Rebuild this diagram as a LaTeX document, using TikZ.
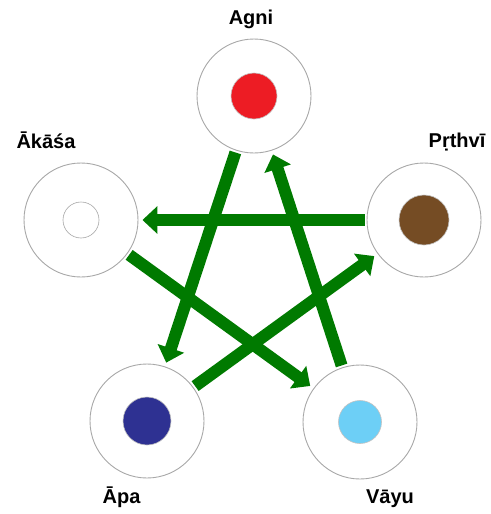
\documentclass[tikz,border=0pt]{standalone}
\usepackage{fontspec}
\setmainfont{Liberation Sans}
\usetikzlibrary{arrows.meta}
\definecolor{ringgray}{HTML}{A8A8A8}
\definecolor{arrowgreen}{HTML}{007A00}
\definecolor{agnired}{HTML}{ED1C24}
\definecolor{earthbrown}{HTML}{754C24}
\definecolor{waterblue}{HTML}{2E3192}
\definecolor{aircyan}{HTML}{6DCFF6}
\begin{document}
\begin{tikzpicture}[x=1pt,y=-1pt,
  ring/.style={circle,draw=ringgray,line width=0.9pt,fill=white,minimum size=114pt,inner sep=0pt},
  dot/.style={circle,draw=ringgray!70,line width=0.6pt,inner sep=0pt},
  lbl/.style={anchor=base,font=\bfseries\fontsize{20}{22}\selectfont,text=black},
  flow/.style={draw=arrowgreen,line width=12pt,
    -{Triangle[width=27pt,length=15pt]},shorten <=2pt,shorten >=4pt}]
\useasboundingbox (0,0) rectangle (490,514);
% rings
\node[ring] (agni) at (254,96) {};
\node[ring] (akasa) at (81,220) {};
\node[ring] (prthvi) at (424,220) {};
\node[ring] (apa) at (147,421) {};
\node[ring] (vayu) at (360,422) {};
% inner dots
\node[dot,fill=agnired,minimum size=46pt] (agnidot) at (agni) {};
\node[dot,fill=white,minimum size=36pt,draw=ringgray] (akasadot) at (akasa) {};
\node[dot,fill=earthbrown,minimum size=50pt] (prthvidot) at (prthvi) {};
\node[dot,fill=waterblue,minimum size=48pt] (apadot) at (apa) {};
\node[dot,fill=aircyan,minimum size=43pt] (vayudot) at (vayu) {};
% labels
\node[lbl] (lagni) at (251,24) {Agni};
\node[lbl] (lakasa) at (46,148) {Ākāśa};
\node[lbl] (lprthvi) at (457,147) {Pṛthvī};
\node[lbl] (lapa) at (121.5,503) {Āpa};
\node[lbl] (lvayu) at (390,503) {Vāyu};
% arrows
\draw[flow] (agni) -- (apa);
\draw[flow] (vayu) -- (agni);
\draw[flow] (prthvi) -- (akasa);
\draw[flow] (akasa) -- (vayu);
\draw[flow] (apa) -- (prthvi);
\end{tikzpicture}
\end{document}
